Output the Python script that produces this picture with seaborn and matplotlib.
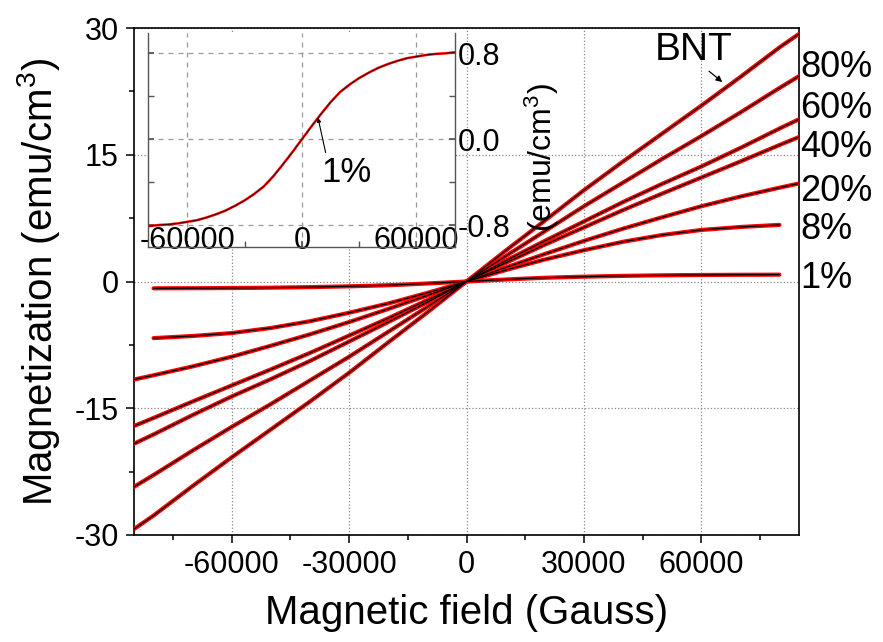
import numpy as np
import pandas as pd
import seaborn as sns
import matplotlib.pyplot as plt
import matplotlib.transforms as mtransforms
from matplotlib.ticker import MultipleLocator, FixedLocator

sns.set_theme(style="white")
plt.rcParams['font.family'] = ['Liberation Sans', 'DejaVu Sans']
plt.rcParams['mathtext.fontset'] = 'custom'
plt.rcParams['mathtext.rm'] = 'Liberation Sans'
plt.rcParams['mathtext.it'] = 'Liberation Sans'
plt.rcParams['axes.unicode_minus'] = False
plt.rcParams['text.color'] = 'black'
plt.rcParams['axes.labelcolor'] = 'black'
plt.rcParams['xtick.color'] = 'black'
plt.rcParams['ytick.color'] = 'black'

# Applied field (Gauss) sampling for the different sample sets
field_long = [-85000, -80000, -70000, -60000, -50000, -40000, -30000, -20000, -10000, 0,
              10000, 20000, 30000, 40000, 50000, 60000, 70000, 80000, 85000]
field_short = [-80000, -70000, -60000, -50000, -40000, -30000, -20000, -10000, 0,
               10000, 20000, 30000, 40000, 50000, 60000, 70000, 80000]
field_1pct = [-80000, -75000, -70000, -65000, -60000, -55000, -50000, -45000, -40000,
              -35000, -30000, -25000, -20000, -15000, -10000, -5000, 0,
              5000, 10000, 15000, 20000, 25000, 30000, 35000, 40000,
              45000, 50000, 55000, 60000, 65000, 70000, 75000, 80000]

# Magnetization (emu/cm^3)
m_bnt = [-29.3, -27.7, -24.2, -20.8, -17.5, -14.2, -10.8, -7.2, -3.65, 0.0,
         3.65, 7.2, 10.8, 14.2, 17.5, 20.8, 24.2, 27.7, 29.3]
m_80 = [-24.3, -22.9, -20.0, -17.2, -14.5, -11.7, -8.9, -5.95, -3.0, 0.0,
        3.0, 5.95, 8.9, 11.7, 14.5, 17.2, 20.0, 22.9, 24.3]
m_60 = [-19.2, -18.1, -15.8, -13.6, -11.55, -9.4, -7.1, -4.8, -2.45, 0.0,
        2.45, 4.8, 7.1, 9.4, 11.55, 13.6, 15.8, 18.1, 19.2]
m_40 = [-17.1, -16.15, -14.2, -12.3, -10.4, -8.45, -6.4, -4.35, -2.2, 0.0,
        2.2, 4.35, 6.4, 8.45, 10.4, 12.3, 14.2, 16.15, 17.1]
m_20 = [-11.6, -11.1, -10.05, -8.9, -7.6, -6.25, -4.8, -3.25, -1.65, 0.0,
        1.65, 3.25, 4.8, 6.25, 7.6, 8.9, 10.05, 11.1, 11.6]
m_8 = [-6.7, -6.45, -6.1, -5.5, -4.7, -3.7, -2.6, -1.35, 0.0,
       1.35, 2.6, 3.7, 4.7, 5.5, 6.1, 6.45, 6.7]
m_1 = [-0.81, -0.80, -0.795, -0.785, -0.77, -0.755, -0.73, -0.70, -0.665,
       -0.62, -0.57, -0.51, -0.44, -0.345, -0.235, -0.12, 0.0,
       0.12, 0.235, 0.345, 0.44, 0.51, 0.57, 0.62, 0.665,
       0.70, 0.73, 0.755, 0.77, 0.785, 0.795, 0.80, 0.81]

series = [
    ("BNT", field_long, m_bnt),
    ("80%", field_long, m_80),
    ("60%", field_long, m_60),
    ("40%", field_long, m_40),
    ("20%", field_long, m_20),
    ("8%", field_short, m_8),
    ("1%", field_1pct, m_1),
]

df = pd.concat(
    [pd.DataFrame({"field": f, "mag": m, "sample": name}) for name, f, m in series],
    ignore_index=True,
)
df_1 = df[df["sample"] == "1%"]

fig = plt.figure(figsize=(8.83, 6.42), dpi=100)
ax = fig.add_axes([134 / 883, 1 - 535 / 642, 665 / 883, 507 / 642])

# measured (red) with fitted curve (black) on top
sns.lineplot(data=df, x="field", y="mag", units="sample", estimator=None,
             sort=False, color="red", lw=3.0, ax=ax, zorder=3)
sns.lineplot(data=df, x="field", y="mag", units="sample", estimator=None,
             sort=False, color="black", lw=0.9, ax=ax, zorder=4)

ax.set_xlim(-85000, 85000)
ax.set_ylim(-30, 30)
ax.xaxis.set_major_locator(FixedLocator([-60000, -30000, 0, 30000, 60000]))
ax.xaxis.set_minor_locator(MultipleLocator(15000))
ax.yaxis.set_major_locator(MultipleLocator(15))
ax.yaxis.set_minor_locator(MultipleLocator(7.5))
ax.tick_params(axis="both", which="major", direction="out", length=6, width=1.1,
               labelsize=22, pad=5, colors="black", bottom=True, left=True)
ax.tick_params(axis="both", which="minor", direction="out", length=3.8, width=1.1,
               bottom=True, left=True)
for s in ax.spines.values():
    s.set_color("black")
    s.set_linewidth(1.2)
ax.grid(True, which="major", ls=":", color="#888888", lw=0.9)
ax.set_axisbelow(True)
ax.set_xlabel("Magnetic field (Gauss)", fontsize=29, labelpad=10)
ax.set_ylabel("Magnetization (emu/cm$^3$)", fontsize=29, labelpad=9)

# sample labels along the right spine
label_y = {"80%": 25.3, "60%": 20.5, "40%": 15.8, "20%": 10.6, "8%": 6.1, "1%": 0.4}
trans = mtransforms.blended_transform_factory(ax.transAxes, ax.transData)
for name, yv in label_y.items():
    ax.text(1.002, yv, name, transform=trans, fontsize=26, ha="left", va="center")

ax.annotate("BNT", xy=(65400, 23.6), xytext=(58000, 27.4), fontsize=28,
            ha="center", va="center",
            arrowprops=dict(arrowstyle="-|>", color="black", lw=0.9,
                            mutation_scale=9, shrinkA=0, shrinkB=0,
                            relpos=(0.65, 0.0)))

# inset: 1% sample on its own scale
ax_in = fig.add_axes([148 / 883, 1 - 247 / 642, 307 / 883, 214 / 642])
ax_in.set_facecolor("white")
sns.lineplot(data=df_1, x="field", y="mag", estimator=None, sort=False,
             color="red", lw=1.8, ax=ax_in, zorder=3)
sns.lineplot(data=df_1, x="field", y="mag", estimator=None, sort=False,
             color="black", lw=0.5, ax=ax_in, zorder=4)
ax_in.set_xlim(-80700, 80200)
ax_in.set_ylim(-1.005, 0.99)
ax_in.xaxis.set_major_locator(FixedLocator([-60000, 0, 60000]))
ax_in.xaxis.set_minor_locator(FixedLocator([-30000, 30000]))
ax_in.yaxis.set_major_locator(FixedLocator([-0.8, 0.0, 0.8]))
ax_in.yaxis.set_minor_locator(FixedLocator([-0.4, 0.4]))
ax_in.yaxis.set_major_formatter(plt.FuncFormatter(lambda v, p: f"{v:.1f}"))
ax_in.spines["top"].set_visible(False)
for k in ("left", "right", "bottom"):
    ax_in.spines[k].set_color("#555555")
    ax_in.spines[k].set_linewidth(1.0)
ax_in.tick_params(axis="x", which="both", direction="in", bottom=True,
                  labelsize=22, pad=-15, length=4, color="#555555",
                  labelcolor="black")
ax_in.tick_params(axis="y", which="both", direction="in", left=True, right=True,
                  labelleft=False, labelright=True, labelsize=22, pad=2,
                  length=4, color="#555555", labelcolor="black")
ax_in.grid(True, which="major", ls=(0, (4, 4)), color="#999999", lw=0.9)
ax_in.set_axisbelow(True)
ax_in.set_xlabel("")
ax_in.set_ylabel("(emu/cm$^3$)", fontsize=23)
ax_in.yaxis.set_label_position("right")
ax_in.yaxis.set_label_coords(1.22, 0.42)
ax_in.annotate("1%", xy=(8400, 0.20), xytext=(23500, -0.31), fontsize=25,
               ha="center", va="center",
               arrowprops=dict(arrowstyle="-|>", color="black", lw=0.8,
                               mutation_scale=6, shrinkA=0, shrinkB=0,
                               relpos=(0.1, 0.95)))

fig.savefig("out.png", dpi=100)
